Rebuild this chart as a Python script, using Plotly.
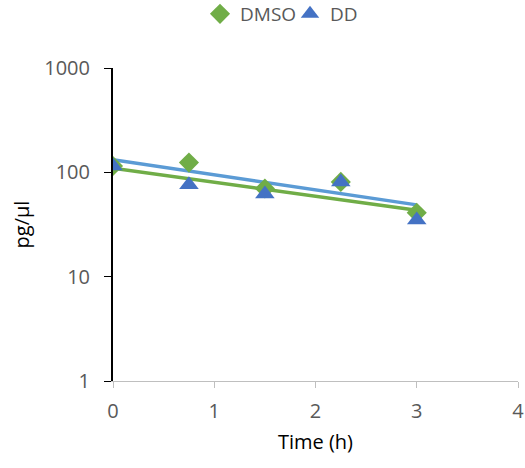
import numpy as np
import plotly.graph_objects as go

time_h = [0, 0.75, 1.5, 2.25, 3]
dmso = [115, 124, 70, 81, 41]
dd = [115, 76, 62, 81, 35]
x_ticks = [0, 1, 2, 3, 4]
y_ticks = [1, 10, 100, 1000]

GREEN = "#70AD47"
BLUE = "#4472C4"
BLUE_LINE = "#5B9BD5"
FONT = "Open Sans"

def exp_fit(x, y):
    b, a = np.polyfit(np.array(x, dtype=float), np.log(np.array(y, dtype=float)), 1)
    xs = np.array([min(x), max(x)], dtype=float)
    return xs, np.exp(a + b * xs)

fig = go.Figure()
xg, yg = exp_fit(time_h, dmso)
xb, yb = exp_fit(time_h, dd)
# Excel's automatic trendline colours: DMSO fit drawn light blue, DD fit drawn green
fig.add_trace(go.Scatter(x=xb, y=yb, mode="lines", line=dict(color=GREEN, width=3.5), showlegend=False, hoverinfo="skip"))
fig.add_trace(go.Scatter(x=xg, y=yg, mode="lines", line=dict(color=BLUE_LINE, width=3.5), showlegend=False, hoverinfo="skip"))
fig.add_trace(go.Scatter(x=time_h, y=dmso, mode="markers", name="DMSO",
                         marker=dict(symbol="diamond", size=15.5, color=GREEN)))
fig.add_trace(go.Scatter(x=time_h, y=dd, mode="markers", name="DD",
                         marker=dict(symbol="triangle-up", size=17, color=BLUE)))

fig.update_layout(
    width=525, height=468,
    margin=dict(l=113, r=7, t=68, b=87, autoexpand=False),
    paper_bgcolor="white", plot_bgcolor="white",
    font=dict(family=FONT, size=20, color="#595959"),
    legend=dict(orientation="h", x=(200 - 113) / 405, xanchor="left", y=(468 - 14 - 87) / 313, yref="paper",
                yanchor="middle", font=dict(size=19, color="#595959"), itemwidth=30,
                entrywidth=45, entrywidthmode="pixels"),
    xaxis=dict(range=[0, 4], tickvals=x_ticks, showgrid=False, zeroline=False,
               showline=True, linecolor="#BFBFBF", linewidth=1,
               ticks="outside", tickcolor="#BFBFBF", ticklen=6, automargin=False,
               ticklabelstandoff=6,
               tickfont=dict(size=20, color="#595959"),
               title=dict(text="Time (h)", font=dict(color="black", size=20), standoff=11)),
    yaxis=dict(type="log", range=[0, 3], tickvals=y_ticks, ticktext=[str(v) for v in y_ticks],
               showgrid=False, zeroline=False, showline=True, linecolor="black", linewidth=2,
               ticks="outside", tickcolor="black", ticklen=7, automargin=False,
               ticklabelstandoff=10,
               tickfont=dict(size=20, color="#595959"),
               title=dict(text="pg/µl", font=dict(color="black", size=20), standoff=9)),
)
fig.write_html("out.html", config={"displayModeBar": False},
               post_script="document.body.style.margin='0';")
